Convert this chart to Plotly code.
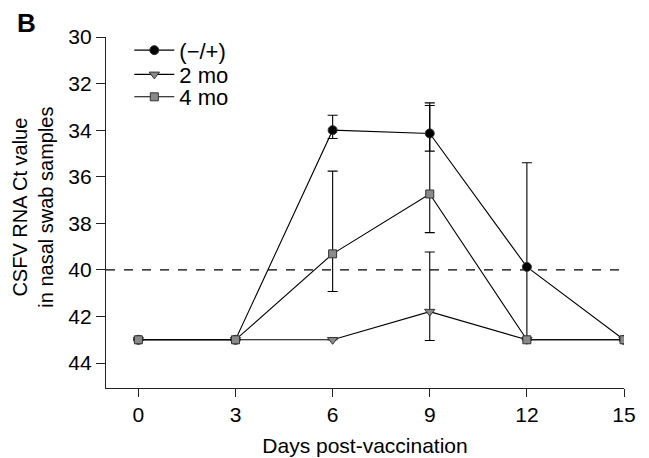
import plotly.graph_objects as go

days = [0, 3, 6, 9, 12, 15]

neg_pos = [43, 43, 34.0, 34.14, 39.87, 43]
neg_pos_err_up = [0, 0, 0.64, 1.31, 4.47, 0]     # toward lower Ct (upwards on reversed axis)
neg_pos_err_down = [0, 0, 0.36, 0.76, 3.13, 0]

mo2 = [43, 43, 43, 41.79, 43, 43]
mo2_err_up = [0, 0, 0, 2.56, 0, 0]
mo2_err_down = [0, 0, 0, 1.24, 0, 0]

mo4 = [43, 43, 39.31, 36.74, 43, 43]
mo4_err_up = [0, 0, 3.55, 3.8, 0, 0]
mo4_err_down = [0, 0, 1.62, 1.66, 0, 0]

cutoff = 40
x_ticks = [0, 3, 6, 9, 12, 15]
y_ticks = [30, 32, 34, 36, 38, 40, 42, 44]

FONT = "Liberation Sans, Arial, sans-serif"

fig = go.Figure()

def add_series(name, y, up, down, symbol, fill, size, legend):
    fig.add_trace(go.Scatter(
        x=days, y=y, name=name, mode="lines+markers", legend=legend,
        line=dict(color="black", width=1.1),
        marker=dict(symbol=symbol, size=size, color=fill,
                    line=dict(color="#333333", width=1)),
        error_y=dict(type="data", symmetric=False, array=down, arrayminus=up,
                     color="black", thickness=1.1, width=5),
    ))

add_series("(\u2212/+)", neg_pos, neg_pos_err_up, neg_pos_err_down, "circle", "black", 9, "legend")
add_series("2 mo", mo2, mo2_err_up, mo2_err_down, "triangle-down", "#8a8a8a", 9, "legend2")
add_series("4 mo", mo4, mo4_err_up, mo4_err_down, "square", "#8a8a8a", 8, "legend3")

fig.add_shape(type="line", xref="x", yref="y", x0=-1, x1=15, y0=cutoff, y1=cutoff,
              line=dict(color="black", width=1.2, dash="dash"), layer="below")

def leg(yc):
    return dict(x=0.045, y=yc, xanchor="left", yanchor="middle",
                bgcolor="rgba(0,0,0,0)", font=dict(size=22), itemwidth=40)

fig.update_layout(
    width=649, height=458,
    margin=dict(l=98, r=33, t=29, b=78),
    plot_bgcolor="white", paper_bgcolor="white",
    font=dict(family=FONT, size=21, color="black"),
    showlegend=True,
    legend=leg(0.962), legend2=leg(0.893), legend3=leg(0.829),
    xaxis=dict(range=[-1, 15], tickvals=x_ticks, ticks="outside", ticklen=8,
               tickwidth=1.2, tickcolor="#222", showline=True, linecolor="#222",
               linewidth=1.3, showgrid=False, zeroline=False,
               tickfont=dict(size=21),
               title=dict(text="Days post-vaccination", font=dict(size=21), standoff=12)),
    yaxis=dict(range=[45.07, 30], tickvals=y_ticks, ticks="outside", ticklen=9,
               tickwidth=1.2, tickcolor="#222", showline=True, linecolor="#222",
               linewidth=1.3, showgrid=False, zeroline=False,
               tickfont=dict(size=21)),
    annotations=[
        dict(text="CSFV RNA Ct value<br>in nasal swab samples", textangle=-90,
             xref="paper", yref="paper", x=-0.14, y=0.515, xanchor="center",
             yanchor="middle", showarrow=False, font=dict(size=20)),
        dict(text="<b>B</b>", xref="paper", yref="paper", x=-0.175, y=1.04,
             xanchor="left", yanchor="middle", showarrow=False, font=dict(size=26)),
    ],
)

fig.write_html("out.html")
